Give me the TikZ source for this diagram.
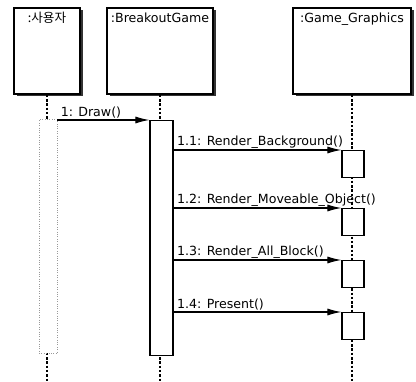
\documentclass[tikz,border=0pt]{standalone}
\usepackage{fontspec}
\setmainfont{DejaVu Sans}
\newfontfamily\kr{Noto Sans CJK KR}
\usepackage{tikz}
\usetikzlibrary{arrows.meta,positioning,shadows}

\begin{document}
\begin{tikzpicture}[
  x=1pt,y=-1pt,
  font=\fontsize{12.6}{14}\selectfont,
  headbox/.style={draw,line width=1.5pt,fill=white,minimum width=#1,minimum height=86pt,inner sep=0pt,
    drop shadow={shadow xshift=2.5pt,shadow yshift=-2.5pt,fill=black!80,opacity=1}},
  headlabel/.style={anchor=north,inner sep=0pt,yshift=-5pt},
  actbox/.style={draw,line width=1.2pt,fill=white,inner sep=0pt,anchor=north},
  useract/.style={draw=black!40,dotted,fill=white,inner sep=0pt,anchor=north},
  lifeline/.style={line width=1.2pt,dash pattern=on 2.5pt off 1.8pt},
  msg/.style={line width=1.1pt,-{Latex[length=14pt,width=7pt]}},
  msglabel/.style={pos=0,anchor=south west,inner sep=1pt,xshift=2pt}
]
\useasboundingbox (0,0) rectangle (416,382);
\coordinate (bottom) at (0,382);

% objects
\node[headbox=66pt,label={[headlabel]north:{\kr :사용자}}] (user) at (47,51) {};
\node[headbox=106pt,label={[headlabel]north::BreakoutGame}] (game) at (160,51) {};
\node[headbox=118pt,label={[headlabel]north::Game\_Graphics}] (gfx) at (352,51) {};

% lifelines
\draw[lifeline] (user.south) -- (user.south |- bottom);
\draw[lifeline] (game.south) -- (game.south |- bottom);
\draw[lifeline] (gfx.south) -- (gfx.south |- bottom);

% activations
\node[useract,minimum width=18pt,minimum height=234pt] (useract) at (48,119) {};
\node[actbox,minimum width=23pt,minimum height=235pt] (gameact) at (161.5,120) {};
\foreach \n/\y in {1/150,2/208,3/260,4/312}
  \node[actbox,minimum width=22pt,minimum height=27pt] (gfxact\n) at (353,\y) {};

% messages
\draw[msg] (useract.east |- gameact.north) -- node[msglabel]{1: Draw()} (gameact.north west);
\draw[msg] (gameact.east |- gfxact1.north) -- node[msglabel]{1.1: Render\_Background()} (gfxact1.north west);
\draw[msg] (gameact.east |- gfxact2.north) -- node[msglabel]{1.2: Render\_Moveable\_Object()} (gfxact2.north west);
\draw[msg] (gameact.east |- gfxact3.north) -- node[msglabel]{1.3: Render\_All\_Block()} (gfxact3.north west);
\draw[msg] (gameact.east |- gfxact4.north) -- node[msglabel]{1.4: Present()} (gfxact4.north west);
\end{tikzpicture}
\end{document}
